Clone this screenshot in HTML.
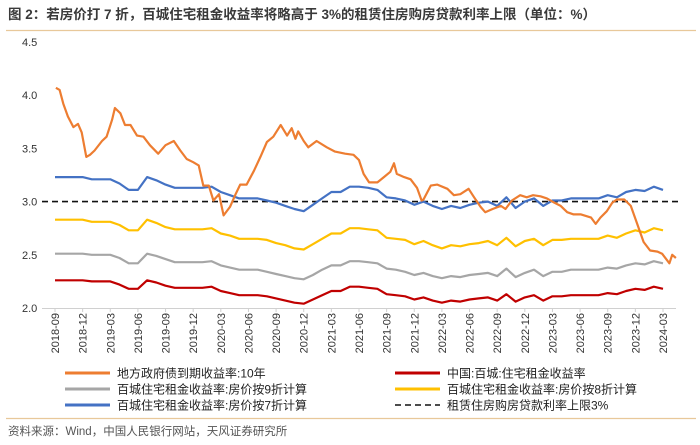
<!DOCTYPE html>
<html><head><meta charset="utf-8">
<style>
html,body{margin:0;padding:0;background:#fff;}
body{width:700px;height:440px;overflow:hidden;font-family:"Liberation Sans","Noto Sans CJK SC",sans-serif;}
</style></head>
<body>
<svg id="chart" width="700" height="440" xmlns="http://www.w3.org/2000/svg" font-family="Liberation Sans, Noto Sans CJK SC, sans-serif">
  <text x="8" y="19" font-size="13.5" font-weight="bold" fill="#3a3a3a">图 2：若房价打 7 折，百城住宅租金收益率将略高于 3%的租赁住房购房贷款利率上限（单位：%）</text>
  <line x1="6" y1="30.5" x2="696" y2="30.5" stroke="#e8c89a" stroke-width="1.2"/>
  <g id="axes"></g>
  <g id="series"></g>
  <g id="legend"></g>
  <line x1="6" y1="418.5" x2="696" y2="418.5" stroke="#e8c89a" stroke-width="1.2"/>
  <text x="8" y="435" font-size="11.5" fill="#555">资料来源：Wind，中国人民银行网站，天风证券研究所</text>
</svg>
<script>
const yTicks = [2.0, 2.5, 3.0, 3.5, 4.0, 4.5];
const xTickLabels = ["2018-09","2018-12","2019-03","2019-06","2019-09","2019-12","2020-03","2020-06","2020-09","2020-12","2021-03","2021-06","2021-09","2021-12","2022-03","2022-06","2022-09","2022-12","2023-03","2023-06","2023-09","2023-12","2024-03"];
const redVals = [2.26,2.26,2.26,2.26,2.25,2.25,2.25,2.22,2.18,2.18,2.26,2.24,2.21,2.19,2.19,2.19,2.19,2.20,2.16,2.14,2.12,2.12,2.12,2.11,2.09,2.07,2.05,2.04,2.08,2.12,2.16,2.16,2.20,2.20,2.19,2.18,2.13,2.12,2.11,2.08,2.10,2.07,2.05,2.07,2.06,2.08,2.09,2.10,2.07,2.13,2.06,2.10,2.12,2.07,2.11,2.11,2.12,2.12,2.12,2.12,2.14,2.13,2.16,2.18,2.17,2.20,2.18];
const grayVals = [2.51,2.51,2.51,2.51,2.50,2.50,2.50,2.47,2.42,2.42,2.51,2.49,2.46,2.43,2.43,2.43,2.43,2.44,2.40,2.38,2.36,2.36,2.36,2.34,2.32,2.30,2.28,2.27,2.31,2.36,2.40,2.40,2.44,2.44,2.43,2.42,2.37,2.36,2.34,2.31,2.33,2.30,2.28,2.30,2.29,2.31,2.32,2.33,2.30,2.37,2.29,2.33,2.36,2.30,2.34,2.34,2.36,2.36,2.36,2.36,2.38,2.37,2.40,2.42,2.41,2.44,2.42];
const yellowVals = [2.83,2.83,2.83,2.83,2.81,2.81,2.81,2.78,2.73,2.73,2.83,2.80,2.76,2.74,2.74,2.74,2.74,2.75,2.70,2.68,2.65,2.65,2.65,2.64,2.61,2.59,2.56,2.55,2.60,2.65,2.70,2.70,2.75,2.75,2.74,2.73,2.66,2.65,2.64,2.60,2.63,2.59,2.56,2.59,2.58,2.60,2.61,2.63,2.59,2.66,2.58,2.63,2.65,2.59,2.64,2.64,2.65,2.65,2.65,2.65,2.68,2.66,2.70,2.73,2.71,2.75,2.73];
const blueVals = [3.23,3.23,3.23,3.23,3.21,3.21,3.21,3.17,3.11,3.11,3.23,3.20,3.16,3.13,3.13,3.13,3.13,3.14,3.09,3.06,3.03,3.03,3.03,3.01,2.99,2.96,2.93,2.91,2.97,3.03,3.09,3.09,3.14,3.14,3.13,3.11,3.04,3.03,3.01,2.97,3.00,2.96,2.93,2.96,2.94,2.97,2.99,3.00,2.96,3.04,2.94,3.00,3.03,2.96,3.01,3.01,3.03,3.03,3.03,3.03,3.06,3.04,3.09,3.11,3.10,3.14,3.11];
const orangeMonths = [0.1,0.5,0.9,1.4,2,2.5,2.9,3.4,3.8,4.3,5.1,5.6,6.2,6.5,7.1,7.6,8.2,8.9,9.6,10.3,11.2,12,12.9,13.6,14.3,15,15.6,16.1,16.7,17.2,17.8,18.3,19,19.6,20.1,20.8,21.6,22.3,23,23.7,24.5,25.2,25.7,26.1,26.4,27,27.5,28.4,29.5,30.4,31.5,32.4,33,33.5,34.1,35,35.7,36.4,36.8,37.1,37.9,38.6,39.3,39.8,40.0,40.8,41.5,42.6,43.3,44,44.9,45.5,46.2,46.7,47.5,48.4,48.9,49.6,50.5,51.2,51.9,52.7,53.4,54.2,54.9,55.6,56.3,57.1,58.2,58.7,59.2,59.9,60.5,61,61.8,62.5,63.2,63.9,64.6,65.4,65.9,66.7,67,67.4];
const orangeVals = [4.07,4.05,3.92,3.80,3.70,3.73,3.65,3.42,3.44,3.48,3.57,3.61,3.77,3.88,3.83,3.72,3.72,3.62,3.61,3.53,3.45,3.53,3.57,3.48,3.40,3.37,3.34,3.15,3.15,3.01,3.07,2.87,2.95,3.07,3.16,3.16,3.29,3.42,3.56,3.61,3.72,3.62,3.69,3.59,3.66,3.57,3.51,3.57,3.51,3.47,3.45,3.44,3.39,3.26,3.18,3.18,3.23,3.28,3.36,3.26,3.23,3.21,3.13,3.01,3.02,3.15,3.16,3.12,3.06,3.07,3.12,3.04,2.95,2.90,2.93,2.96,2.93,3.01,3.06,3.04,3.06,3.05,3.03,2.99,2.96,2.90,2.88,2.88,2.85,2.79,2.85,2.91,2.99,3.02,3.02,2.96,2.79,2.62,2.54,2.53,2.51,2.42,2.50,2.47];
const capRate = 3.0;

const NS = "http://www.w3.org/2000/svg";
const x = m => 55 + m * 9.212;
const y = v => 308 - (v - 2.0) * 106.4;
function mk(tag, attrs, parent) {
  const el = document.createElementNS(NS, tag);
  for (const k in attrs) el.setAttribute(k, attrs[k]);
  parent.appendChild(el);
  return el;
}
const axes = document.getElementById('axes');
const series = document.getElementById('series');
const legend = document.getElementById('legend');

yTicks.forEach(v => {
  const t = mk('text', {x: 22, y: y(v) + 4, 'font-size': 11, fill: '#333'}, axes);
  
  
  t.textContent = v.toFixed(1);
});
const axisLine = mk('line', {x1: 42, y1: 308.5, x2: 676, y2: 308.5, stroke: '#d0d0d0', 'stroke-width': 1}, axes);


xTickLabels.forEach((lab, i) => {
  const px = x(i * 3);
  const tk = mk('line', {x1: px, y1: 308.5, x2: px, y2: 312, stroke: '#d0d0d0'}, axes);
  
  
  const t = mk('text', {x: 0, y: 0, 'font-size': 11, fill: '#333', 'text-anchor': 'end', transform: `translate(${px + 4},313) rotate(-90)`}, axes);
  
  
  t.textContent = lab;
});

const capLine = mk('line', {x1: 42, y1: y(capRate), x2: 678, y2: y(capRate), stroke: '#111', 'stroke-width': 1.6, 'stroke-dasharray': '6,4'}, series);



function monthly(vals, color, name) {
  const d = vals.map((v, i) => (i ? 'L' : 'M') + x(i).toFixed(1) + ' ' + y(v).toFixed(1)).join(' ');
  const p = mk('path', {d, fill: 'none', stroke: color, 'stroke-width': 2.2, 'stroke-linejoin': 'round'}, series);
  
  
}
monthly(redVals, '#c00000', 'series-rent-yield');
monthly(grayVals, '#a6a6a6', 'series-rent-yield-90pct');
monthly(yellowVals, '#ffc000', 'series-rent-yield-80pct');
monthly(blueVals, '#4472c4', 'series-rent-yield-70pct');
{
  const d = orangeVals.map((v, i) => (i ? 'L' : 'M') + x(orangeMonths[i]).toFixed(1) + ' ' + y(v).toFixed(1)).join(' ');
  const p = mk('path', {d, fill: 'none', stroke: '#ed7d31', 'stroke-width': 2.2, 'stroke-linejoin': 'round'}, series);
  
  
}

const legendItems = [
  ['地方政府债到期收益率:10年', '#ed7d31', false, 65, 373],
  ['中国:百城:住宅租金收益率', '#c00000', false, 395, 373],
  ['百城住宅租金收益率:房价按9折计算', '#a6a6a6', false, 65, 389],
  ['百城住宅租金收益率:房价按8折计算', '#ffc000', false, 395, 389],
  ['百城住宅租金收益率:房价按7折计算', '#4472c4', false, 65, 405],
  ['租赁住房购房贷款利率上限3%', '#111', true, 395, 405]
];
legendItems.forEach(it => {
  const g = mk('g', {}, legend);
  
  
  mk('line', {x1: it[3], y1: it[4], x2: it[3] + 45, y2: it[4], stroke: it[1], 'stroke-width': it[2] ? 1.6 : 3, 'stroke-dasharray': it[2] ? '6,4' : ''}, g);
  const t = mk('text', {x: it[3] + 52, y: it[4] + 4.5, 'font-size': 12, fill: '#222'}, g);
  t.textContent = it[0];
});
</script>
</body></html>
